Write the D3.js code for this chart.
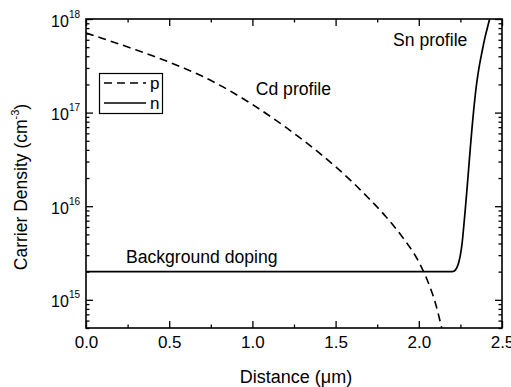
<!DOCTYPE html>
<html><head><meta charset="utf-8">
<script src="https://cdn.jsdelivr.net/npm/d3@7"></script>
<style>body{margin:0;background:#fff}svg{display:block;font-family:"Liberation Sans",Arial,sans-serif}</style>
</head><body>
<svg id="c" width="511" height="387"></svg>
<script>
// Data
const pDist = [0,0.1,0.2,0.3,0.4,0.5,0.6,0.7,0.8,0.9,1.0,1.1,1.2,1.3,1.4,1.5,1.6,1.7,1.8,1.9,2.0,2.05,2.1,2.14];
const pVal  = [7.08e17,6.19e17,5.40e17,4.68e17,4.04e17,3.46e17,2.93e17,2.44e17,1.98e17,1.57e17,1.22e17,9.31e16,6.98e16,5.15e16,3.73e16,2.64e16,1.82e16,1.21e16,7.83e15,4.72e15,2.54e15,1.64e15,9.2e14,4.8e14];
const nDist = [0,0.5,1.0,1.5,2.0,2.2,2.21,2.22,2.23,2.24,2.25,2.26,2.27,2.28,2.29,2.30,2.31,2.32,2.33,2.34,2.35,2.36,2.37,2.38,2.39,2.40,2.41,2.42,2.43];
const nVal  = [2e15,2e15,2e15,2e15,2e15,2e15,2.02e15,2.09e15,2.24e15,2.51e15,3.02e15,3.98e15,6.03e15,9.55e15,1.55e16,2.57e16,4.27e16,6.92e16,1.07e17,1.58e17,2.19e17,2.88e17,3.63e17,4.47e17,5.50e17,6.61e17,7.76e17,9.12e17,1.07e18];
const xTicks = [0,0.5,1.0,1.5,2.0,2.5];
const xTickLabels = ["0.0","0.5","1.0","1.5","2.0","2.5"];
const xMinor = [0.25,0.75,1.25,1.75,2.25];
const yTicks = [1e15,1e16,1e17,1e18];
const yTickExp = ["15","16","17","18"];
const seriesNames = ["p","n"];
const annotations = [["Cd profile",1.02,1.54e17],["Sn profile",1.845,5.15e17],["Background doping",0.24,2.47e15]];

const L=86,R=502,T=19,B=328;
const svg=d3.select("#c");
const x=d3.scaleLinear().domain([0,2.5]).range([L,R]);
const y=d3.scaleLog().domain([5e14,1e18]).range([B,T]);

const yMinor=[];
for(let e=14;e<18;e++)for(let m=2;m<=9;m++){const v=m*Math.pow(10,e);if(v>=5e14&&v<1e18)yMinor.push(v);}

function styleAxis(sel){
  sel.select(".domain").remove();
  sel.selectAll(".tick line").attr("stroke","#000").attr("stroke-width",1.3);
}
// major/minor ticks on all four sides (inward)
svg.append("g").attr("transform",`translate(0,${B})`)
  .call(d3.axisBottom(x).tickValues(xTicks).tickSizeInner(-7).tickSizeOuter(0).tickPadding(8).tickFormat((d,i)=>xTickLabels[i]))
  .call(styleAxis)
  .call(s=>s.selectAll("text").attr("font-size",17).attr("fill","#000").attr("font-family","Liberation Sans, Arial, sans-serif"));
svg.append("g").attr("transform",`translate(0,${B})`)
  .call(d3.axisBottom(x).tickValues(xMinor).tickSizeInner(-3.5).tickSizeOuter(0).tickFormat("")).call(styleAxis);
svg.append("g").attr("transform",`translate(0,${T})`)
  .call(d3.axisTop(x).tickValues(xTicks).tickSizeInner(-7).tickSizeOuter(0).tickFormat("")).call(styleAxis);
svg.append("g").attr("transform",`translate(0,${T})`)
  .call(d3.axisTop(x).tickValues(xMinor).tickSizeInner(-3.5).tickSizeOuter(0).tickFormat("")).call(styleAxis);

const leftAx=svg.append("g").attr("transform",`translate(${L},0)`)
  .call(d3.axisLeft(y).tickValues(yTicks).tickSizeInner(-7).tickSizeOuter(0).tickFormat("")).call(styleAxis);
svg.append("g").attr("transform",`translate(${L},0)`)
  .call(d3.axisLeft(y).tickValues(yMinor).tickSizeInner(-3.5).tickSizeOuter(0).tickFormat("")).call(styleAxis);
svg.append("g").attr("transform",`translate(${R},0)`)
  .call(d3.axisRight(y).tickValues(yTicks).tickSizeInner(-7).tickSizeOuter(0).tickFormat("")).call(styleAxis);
svg.append("g").attr("transform",`translate(${R},0)`)
  .call(d3.axisRight(y).tickValues(yMinor).tickSizeInner(-3.5).tickSizeOuter(0).tickFormat("")).call(styleAxis);

// y tick labels with superscripts
leftAx.selectAll(".tick").each(function(d,i){
  const t=d3.select(this).select("text").attr("x",-6).attr("dy",null).attr("y",7).attr("text-anchor","end")
    .attr("font-size",16).attr("fill","#000").attr("font-family","Liberation Sans, Arial, sans-serif");
  t.text(null);
  t.append("tspan").text("10");
  t.append("tspan").attr("font-size",10).attr("dy",-9).text(yTickExp[yTicks.indexOf(d)]);
});

// frame
svg.append("rect").attr("x",L).attr("y",T).attr("width",R-L).attr("height",B-T).attr("fill","none").attr("stroke","#000").attr("stroke-width",1.6);

// axis titles
svg.append("text").attr("x",296).attr("y",383).attr("text-anchor","middle").attr("font-size",18).text("Distance (μm)");
const ytt=svg.append("text").attr("transform","translate(27,187) rotate(-90)").attr("text-anchor","middle").attr("font-size",17.5);
ytt.append("tspan").text("Carrier Density (cm");
ytt.append("tspan").attr("font-size",11).attr("dy",-8).text("-3");
ytt.append("tspan").attr("dy",8).text(")");

// series
svg.append("clipPath").attr("id","pc").append("rect").attr("x",L).attr("y",T).attr("width",R-L).attr("height",B-T);
const line=d3.line().x(d=>x(d[0])).y(d=>y(d[1])).curve(d3.curveMonotoneX);
const lg=svg.append("g").attr("clip-path","url(#pc)");
lg.append("path").attr("d",line(pDist.map((d,i)=>[d,pVal[i]]))).attr("fill","none").attr("stroke","#000").attr("stroke-width",1.6).attr("stroke-dasharray","8,5");
lg.append("path").attr("d",line(nDist.map((d,i)=>[d,nVal[i]]))).attr("fill","none").attr("stroke","#000").attr("stroke-width",1.7);

// annotations
annotations.forEach(a=>{
  svg.append("text").attr("x",x(a[1])).attr("y",y(a[2])).attr("font-size",17.6).text(a[0]);
});

// legend
svg.append("rect").attr("x",99.5).attr("y",73.5).attr("width",63).attr("height",40).attr("fill","#fff").attr("stroke","#000").attr("stroke-width",1.2);
svg.append("line").attr("x1",104).attr("x2",146).attr("y1",83).attr("y2",83).attr("stroke","#000").attr("stroke-width",1.6).attr("stroke-dasharray","8,5");
svg.append("line").attr("x1",104).attr("x2",146).attr("y1",103).attr("y2",103).attr("stroke","#000").attr("stroke-width",1.7);
svg.append("text").attr("x",150).attr("y",89).attr("font-size",17).text(seriesNames[0]);
svg.append("text").attr("x",150).attr("y",109).attr("font-size",17).text(seriesNames[1]);
</script>
</body></html>
